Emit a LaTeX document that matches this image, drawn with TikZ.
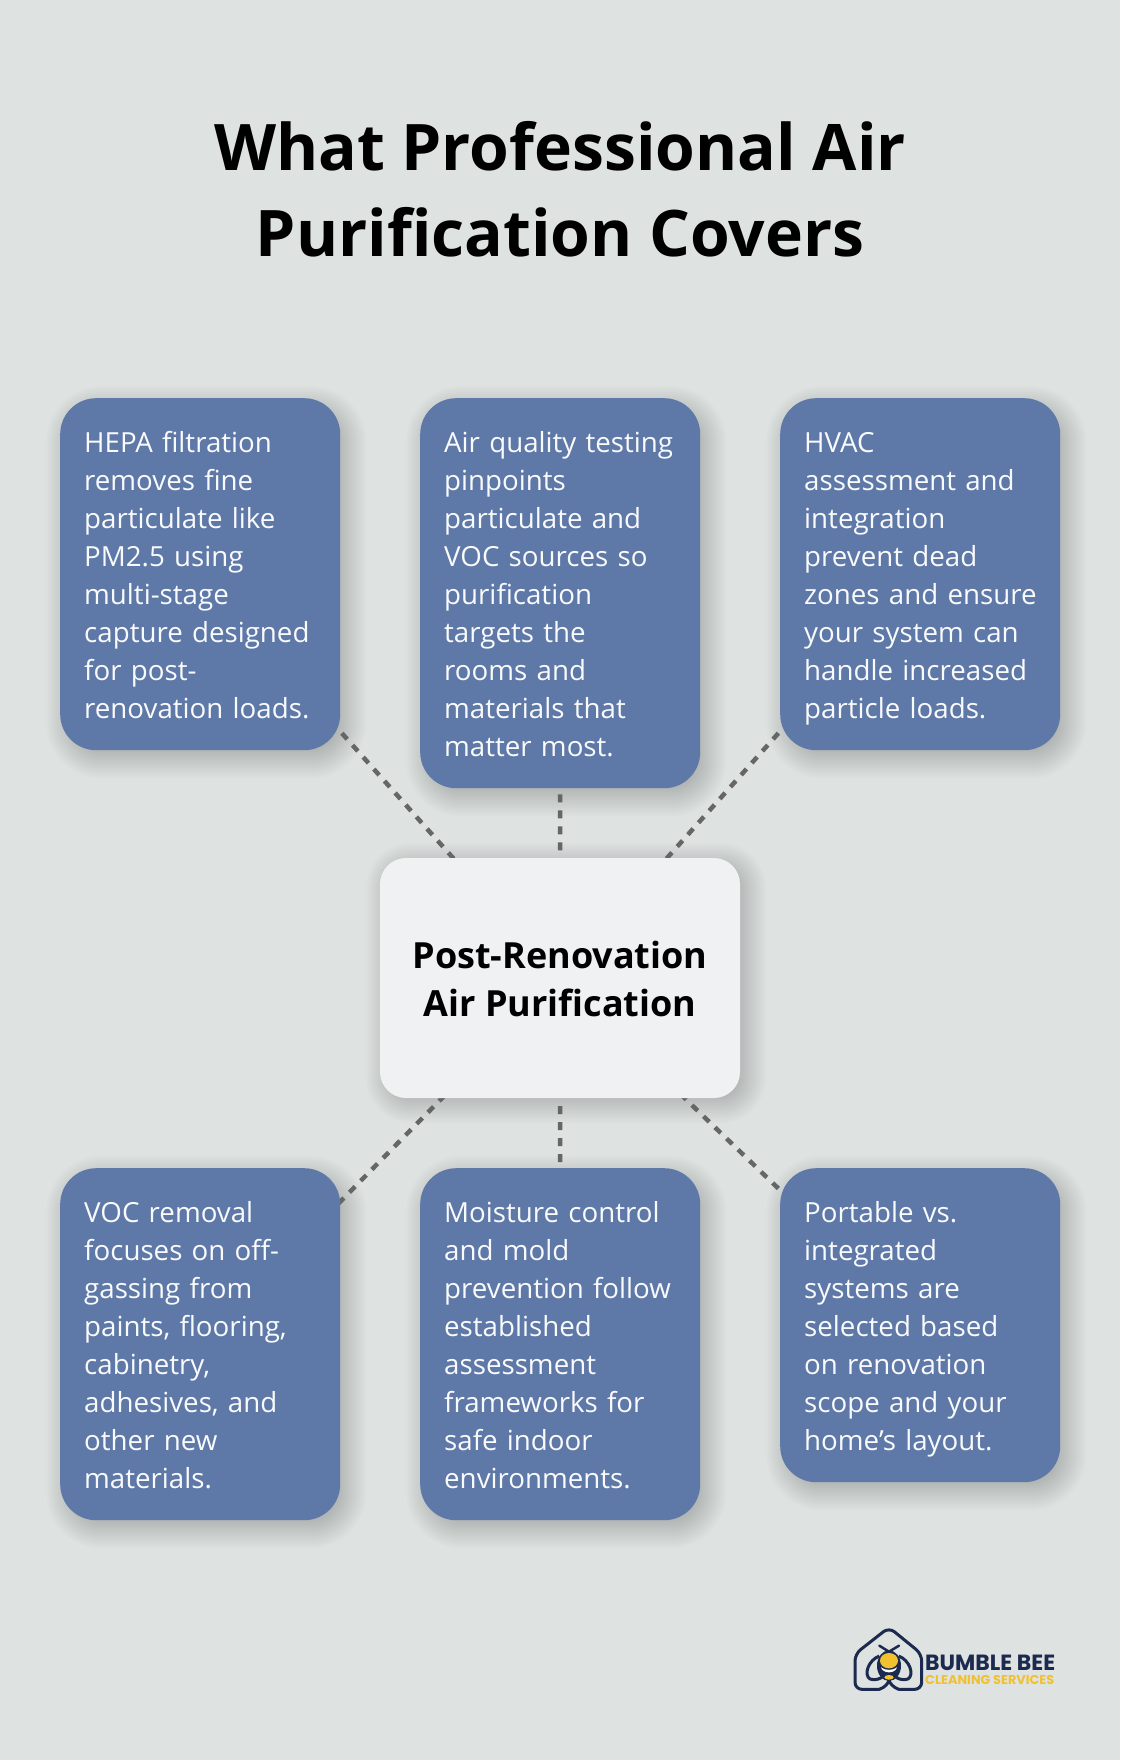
\documentclass[tikz,border=0pt]{standalone}
\usepackage{fontspec}
\setmainfont{Open Sans}
\newfontfamily\logofont{Poppins}
\usetikzlibrary{calc}
\definecolor{bgc}{HTML}{DEE2E1}
\definecolor{boxc}{HTML}{5E78A8}
\definecolor{midc}{HTML}{EFF1F2}
\definecolor{linec}{HTML}{666666}
\definecolor{navyc}{HTML}{1B2A4E}
\definecolor{yelc}{HTML}{F2C12E}
\pgfdeclarelayer{bglayer}
\pgfdeclarelayer{shadowlayer}
\pgfdeclarelayer{linelayer}
\pgfsetlayers{bglayer,shadowlayer,linelayer,main}
\newcommand{\topstr}{\leavevmode\vrule height 30pt depth 0pt width 0pt\relax}
\newcommand{\botstr}{\vrule height 0pt depth 8pt width 0pt\relax}
\newcommand{\midstr}{\leavevmode\vrule height 30pt depth 0pt width 0pt\relax}
\newcommand{\boxfont}{\fontsize{27.7}{38}\selectfont\hyphenpenalty=10000\relax}
\tikzset{
  infobox/.style={rectangle,rounded corners=36pt,fill=boxc,text=white!96!boxc,anchor=north west,
    text width=232pt,inner xsep=24pt,inner ysep=24pt,align=left,font=\boxfont},
  midbox/.style={rectangle,rounded corners=26pt,fill=midc,text=black,minimum width=360pt,minimum height=240pt,
    align=center,inner sep=0pt,font=\fontsize{36}{48}\selectfont\bfseries},
  titletext/.style={align=center,inner sep=0pt,text=black,font=\fontsize{64.2}{86}\selectfont\bfseries},
  conn/.style={draw=linec,line width=4.5pt,dash pattern=on 8pt off 8pt}
}
\newcommand{\softshadow}[3]{%
  \foreach \e in {-10,-8,...,20}{%
    \pgfmathsetmacro{\rr}{#2+\e}%
    \fill[black,opacity=0.012,rounded corners=\rr pt] ([shift={(6-\e,#3-\e)}]#1.north west) rectangle ([shift={(6+\e,#3+\e)}]#1.south east);
  }}
\begin{document}
\begin{tikzpicture}[x=1pt,y=-1pt]
\useasboundingbox (0,0) rectangle (1120,1760);
\begin{pgfonlayer}{bglayer}
\fill[bgc] (0,0) rectangle (1120,1760);
\end{pgfonlayer}
\node[titletext] (title) at (560,189) {What Professional Air\\Purification Covers};
\node[infobox] (b1) at (60,398) {\topstr HEPA filtration\\removes fine\\particulate like\\PM2.5 using\\multi-stage\\capture designed\\for post-\\renovation loads.\botstr};
\node[infobox] (b2) at (420,398) {\topstr Air quality testing\\pinpoints\\particulate and\\VOC sources so\\purification\\targets the\\rooms and\\materials that\\matter most.\botstr};
\node[infobox] (b3) at (780,398) {\topstr HVAC\\assessment and\\integration\\prevent dead\\\mbox{zones and ensure}\\your system can\\handle increased\\particle loads.\botstr};
\node[infobox] (b4) at (60,1168) {\topstr VOC removal\\focuses on off-\\gassing from\\paints, flooring,\\cabinetry,\\adhesives, and\\other new\\materials.\botstr};
\node[infobox] (b5) at (420,1168) {\topstr Moisture control\\and mold\\prevention follow\\established\\assessment\\frameworks for\\safe indoor\\environments.\botstr};
\node[infobox] (b6) at (780,1168) {\topstr Portable vs.\\integrated\\systems are\\selected based\\on renovation\\scope and your\\home’s layout.\botstr};
\node[midbox] (mid) at (560,978) {\midstr Post-Renovation\\Air Purification};
\begin{pgfonlayer}{shadowlayer}
  \foreach \n in {b1,b2,b3,b4,b5,b6}{\softshadow{\n}{36}{8}}
  \softshadow{mid}{26}{5}
\end{pgfonlayer}
\begin{pgfonlayer}{linelayer}
  \draw[conn,dash phase=11pt] (b1.center) -- (mid.center);
  \draw[conn,dash phase=11pt] (b3.center) -- (mid.center);
  \draw[conn,dash phase=11pt] (b4.center) -- (mid.center);
  \draw[conn,dash phase=11pt] (b6.center) -- (mid.center);
  \draw[conn] ([yshift=-6pt]b2.south) -- (mid.north);
  \draw[conn] ([yshift=-8pt]mid.south) -- (b5.north);
\end{pgfonlayer}
% logo
\begin{scope}[shift={(820,1600)},x=0.3333pt,y=-0.3333pt]
  \draw[navyc,line width=3pt,rounded corners=7pt,line cap=round] (178,268) -- (105,268) -- (105,162) -- (207,82) -- (305,162) -- (305,268) -- (236,268);
  \draw[navyc,line width=3pt,line cap=round] (178,268) .. controls (195,262) and (205,250) .. (207,240) .. controls (209,250) and (220,262) .. (236,268);
  \draw[navyc,line width=3pt,line join=round] (178,168) .. controls (145,180) and (130,225) .. (150,237) .. controls (165,243) and (185,235) .. (190,228);
  \draw[navyc,line width=3pt,line join=round] (236,168) .. controls (269,180) and (284,225) .. (264,237) .. controls (249,243) and (229,235) .. (224,228);
  \draw[navyc,line width=2.5pt,line cap=round] (207,155) -- (178,137);
  \draw[navyc,line width=2.5pt,line cap=round] (207,155) -- (237,137);
  \fill[navyc] (207,197) ellipse [x radius=36,y radius=46];
  \fill[yelc] (207,182) ellipse [x radius=27,y radius=23];
  \fill[white!90!bgc] (183,202) .. controls (195,212) and (219,212) .. (231,202) .. controls (226,222) and (188,222) .. (183,202) -- cycle;
  \fill[yelc] (207,232) ellipse [x radius=14,y radius=7];
\end{scope}
\node[anchor=base west,inner sep=0pt,text=navyc,font=\logofont\fontsize{22}{22}\selectfont\bfseries] (logoa) at (925,1670.5) {BUMBLE BEE};
\node[anchor=base west,inner sep=0pt,text=yelc,font=\logofont\fontsize{12.85}{13}\selectfont\bfseries] (logob) at (925,1684) {CLEANING SERVICES};
\end{tikzpicture}
\end{document}
